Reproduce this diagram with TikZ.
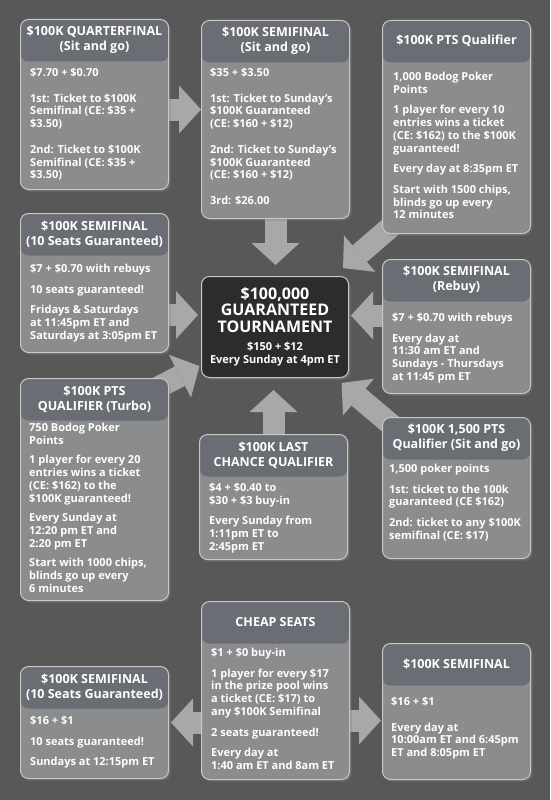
\documentclass[tikz,border=0pt]{standalone}
\usepackage{fontspec}
\setmainfont{Open Sans}
\usetikzlibrary{arrows.meta, shadows, backgrounds}
\definecolor{bggray}{RGB}{88,88,88}
\definecolor{cardgray}{RGB}{139,140,142}
\definecolor{headgray}{RGB}{106,110,116}
\definecolor{edgegray}{RGB}{200,200,200}
\definecolor{arrowgray}{RGB}{168,168,168}
\definecolor{tourdark}{RGB}{44,44,44}

\tikzset{
  card/.style={draw=edgegray, line width=1pt, fill=cardgray, rounded corners=8pt, anchor=north west,
    minimum width=148pt, inner sep=0pt,
    drop shadow={opacity=0.45, shadow xshift=2pt, shadow yshift=-2pt},
    path picture={\fill[headgray] ([yshift=-42pt]path picture bounding box.north west) rectangle (path picture bounding box.north east);}},
  tourbox/.style={draw=edgegray, line width=1pt, fill=tourdark, rounded corners=8pt, anchor=north west,
    minimum width=147pt, minimum height=101pt, inner sep=0pt,
    drop shadow={opacity=0.45, shadow xshift=2pt, shadow yshift=-2pt}},
  headtxt/.style={inner sep=0pt, align=center, text=white, font=\fontsize{12.5}{15}\selectfont\bfseries},
  bodytxt/.style={anchor=north west, inner sep=0pt, align=left, text=white, font=\fontsize{11}{12.7}\selectfont\bfseries},
  blockarrow/.style={arrowgray, line width=22pt, -{Triangle[length=22pt, width=48pt, line width=0pt]}}
}

\begin{document}
\begin{tikzpicture}[x=1pt, y=-1pt]
  \useasboundingbox (0,0) rectangle (550,800);

  % Quarterfinal
  \node[card, minimum height=170pt] (qf) at (20,19) {};
  \node[headtxt] (qfh) at ([yshift=-21pt]qf.north) {\$100K QUARTERFINAL\\(Sit and go)};
  \node[bodytxt] (qfb) at ([xshift=10pt, yshift=-49pt]qf.north west) {\$7.70 + \$0.70\\[13pt]
    1st: Ticket to \$100K\\Semifinal (CE: \$35 +\\\$3.50)\\[13pt]
    2nd: Ticket to \$100K\\Semifinal (CE: \$35 +\\\$3.50)};

  % Semifinal sit and go
  \node[card, minimum height=198pt] (sfsit) at (201,20) {};
  \node[headtxt] (sfsith) at ([yshift=-21pt]sfsit.north) {\$100K SEMIFINAL\\(Sit and go)};
  \node[bodytxt] (sfsitb) at ([xshift=9pt, yshift=-48pt]sfsit.north west) {\$35 + \$3.50\\[13pt]
    1st: Ticket to Sunday’s\\\$100K Guaranteed\\(CE: \$160 + \$12)\\[13pt]
    2nd: Ticket to Sunday’s\\\$100K Guaranteed\\(CE: \$160 + \$12)\\[13pt]
    3rd: \$26.00};

  % PTS qualifier
  \node[card, minimum height=213pt] (ptsq) at (382,20) {};
  \node[headtxt] (ptsqh) at ([yshift=-21pt]ptsq.north) {\$100K PTS Qualifier};
  \node[bodytxt] (ptsqb) at ([xshift=11pt, yshift=-52pt]ptsq.north west) {1,000 Bodog Poker\\Points\\[8pt]
    1 player for every 10\\entries wins a ticket\\(CE: \$162) to the \$100K\\guaranteed!\\[8pt]
    Every day at 8:35pm ET\\[8pt]
    Start with 1500 chips,\\blinds go up every\\12 minutes};

  % Semifinal 10 seats
  \node[card, minimum height=139pt] (sften) at (20,213) {};
  \node[headtxt] (sftenh) at ([yshift=-21pt]sften.north) {\$100K SEMIFINAL\\(10 Seats Guaranteed)};
  \node[bodytxt] (sftenb) at ([xshift=10pt, yshift=-51pt]sften.north west) {\$7 + \$0.70 with rebuys\\[8pt]
    10 seats guaranteed!\\[8pt]
    Fridays \& Saturdays\\at 11:45pm ET and\\Saturdays at 3:05pm ET};

  % Main event
  \node[tourbox] (tour) at (201,276) {};
  \node[headtxt, font=\fontsize{16}{16.5}\selectfont\bfseries] (tourh) at ([yshift=17pt]tour.center) {\$100,000\\GUARANTEED\\TOURNAMENT};
  \node[headtxt, font=\fontsize{11}{13}\selectfont\bfseries] (tourb) at ([yshift=-27pt]tour.center) {\$150 + \$12\\Every Sunday at 4pm ET};

  % Semifinal rebuy
  \node[card, minimum height=134pt] (sfreb) at (382,259) {};
  \node[headtxt] (sfrebh) at ([yshift=-21pt]sfreb.north) {\$100K SEMIFINAL\\(Rebuy)};
  \node[bodytxt] (sfrebb) at ([xshift=10pt, yshift=-54pt]sfreb.north west) {\$7 + \$0.70 with rebuys\\[8pt]
    Every day at\\11:30 am ET and\\Sundays - Thursdays\\at 11:45 pm ET};

  % PTS turbo
  \node[card, minimum height=222pt] (ptst) at (20,378) {};
  \node[headtxt] (ptsth) at ([yshift=-21pt]ptst.north) {\$100K PTS\\QUALIFIER (Turbo)};
  \node[bodytxt] (ptstb) at ([xshift=9pt, yshift=-45pt]ptst.north west) {750 Bodog Poker\\Points\\[7pt]
    1 player for every 20\\entries wins a ticket\\(CE: \$162) to the\\\$100K guaranteed!\\[7pt]
    Every Sunday at\\12:20 pm ET and\\2:20 pm ET\\[7pt]
    Start with 1000 chips,\\blinds go up every\\6 minutes};

  % Last chance
  \node[card, minimum height=125pt] (lastc) at (199,434) {};
  \node[headtxt] (lastch) at ([yshift=-21pt]lastc.north) {\$100K LAST\\CHANCE QUALIFIER};
  \node[bodytxt] (lastcb) at ([xshift=10pt, yshift=-49pt]lastc.north west) {\$4 + \$0.40 to\\\$30 + \$3 buy-in\\[8pt]
    Every Sunday from\\1:11pm ET to\\2:45pm ET};

  % 1,500 PTS
  \node[card, minimum height=141pt] (pts15) at (382,417) {};
  \node[headtxt] (pts15h) at ([yshift=-21pt]pts15.north) {\$100K 1,500 PTS\\Qualifier (Sit and go)};
  \node[bodytxt] (pts15b) at ([xshift=7pt, yshift=-47pt]pts15.north west) {1,500 poker points\\[8pt]
    1st: ticket to the 100k\\guaranteed (CE \$162)\\[8pt]
    2nd: ticket to any \$100K\\semifinal (CE: \$17)};

  % Semifinal 10 seats, Sunday
  \node[card, minimum height=112pt] (sfsun) at (20,666) {};
  \node[headtxt] (sfsunh) at ([yshift=-21pt]sfsun.north) {\$100K SEMIFINAL\\(10 Seats Guaranteed)};
  \node[bodytxt] (sfsunb) at ([xshift=10pt, yshift=-50pt]sfsun.north west) {\$16 + \$1\\[8pt]
    10 seats guaranteed!\\[8pt]
    Sundays at 12:15pm ET};

  % Cheap seats
  \node[card, minimum height=178pt] (cheap) at (201,601) {};
  \node[headtxt] (cheaph) at ([yshift=-21pt]cheap.north) {CHEAP SEATS};
  \node[bodytxt] (cheapb) at ([xshift=10pt, yshift=-47pt]cheap.north west) {\$1 + \$0 buy-in\\[8pt]
    1 player for every \$17\\in the prize pool wins\\a ticket (CE: \$17) to\\any \$100K Semifinal\\[8pt]
    2 seats guaranteed!\\[8pt]
    Every day at\\1:40 am ET and 8am ET};

  % Semifinal daily
  \node[card, minimum height=136pt] (sfday) at (382,643) {};
  \node[headtxt] (sfdayh) at ([yshift=-21pt]sfday.north) {\$100K SEMIFINAL};
  \node[bodytxt] (sfdayb) at ([xshift=9pt, yshift=-54pt]sfday.north west) {\$16 + \$1\\[13pt]
    Every day at\\10:00am ET and 6:45pm\\ET and 8:05pm ET};

  % Arrows behind the boxes
  \begin{scope}[on background layer]
    \fill[bggray] (0,0) rectangle (550,800);
    \draw[blockarrow] ([yshift=-5pt]qf.east) -- ([yshift=-5pt]qf.east -| sfsit.west);
    \draw[blockarrow, shorten >=11pt] (sfsit.south) -- (sfsit.south |- tour.north);
    \draw[blockarrow, shorten >=90pt] ([xshift=12pt, yshift=10pt]ptsq.south west) -- (tour.center);
    \draw[blockarrow, shorten >=3pt] ([yshift=-32pt]sften.east) -- ([yshift=-32pt]sften.east -| tour.west);
    \draw[blockarrow, shorten >=2pt] ([yshift=11pt]sfreb.west) -- ([yshift=11pt]sfreb.west -| tour.east);
    \draw[blockarrow, shorten >=85pt] ([xshift=-12pt, yshift=-10pt]ptst.north east) -- (tour.center);
    \draw[blockarrow, shorten >=12pt] (lastc.north) -- (lastc.north |- tour.south);
    \draw[blockarrow, shorten >=87pt] ([xshift=12pt, yshift=-10pt]pts15.north west) -- (tour.center);
    \draw[blockarrow, shorten >=2pt] ([yshift=-32pt]cheap.west) -- ([yshift=-32pt]cheap.west -| sfsun.east);
    \draw[blockarrow, shorten >=1pt] ([yshift=-30pt]cheap.east) -- ([yshift=-30pt]cheap.east -| sfday.west);
  \end{scope}
\end{tikzpicture}
\end{document}
